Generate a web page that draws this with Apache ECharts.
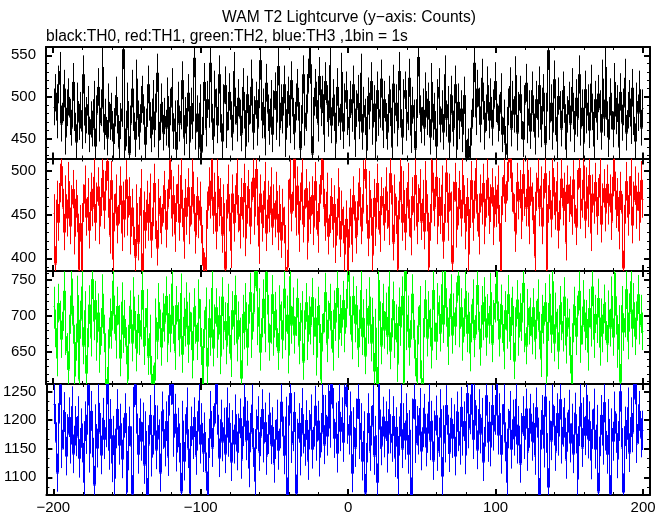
<!DOCTYPE html>
<html><head><meta charset="utf-8">
<script src="https://cdn.jsdelivr.net/npm/echarts@6/dist/echarts.min.js"></script>
<style>html,body{margin:0;padding:0;background:#fff}#c{width:669px;height:515px}</style>
</head><body><div id="c"></div>
<script>
const titleText = 'WAM T2 Lightcurve (y\u2212axis: Counts)';
const subtitleText = 'black:TH0, red:TH1, green:TH2, blue:TH3 ,1bin = 1s';
const xStart = -200;
const binSize = 1;
const xTicks = [-200, -100, 0, 100, 200];
const xMinorTicks = [-180,-160,-140,-120,-80,-60,-40,-20,20,40,60,80,120,140,160,180];

// counts per 1 s bin (bin centres from -199.5 to 199.5)
const th0 = [
488,505,472,515,531,468,493,510,452,487,500,476,463,518,481,446,495,470,484,459,527,466,478,491,455,
473,462,497,441,480,512,468,487,536,458,476,451,494,470,483,447,465,502,478,439,471,486,557,436,462,
495,432,468,510,481,449,522,474,458,491,503,467,443,486,515,472,455,498,461,482,529,448,470,494,457,
477,463,501,440,488,512,459,474,437,496,468,483,520,451,478,465,505,446,489,471,547,458,480,439,493,
434,476,518,462,497,485,541,470,453,509,488,466,527,479,447,493,514,460,482,506,473,457,531,489,468,
499,475,456,512,484,441,503,467,490,522,458,479,496,463,509,544,472,488,451,517,481,464,498,455,486,
507,470,537,462,493,478,515,449,485,502,466,520,477,458,494,511,472,438,490,527,463,481,505,546,539,
432,478,511,496,468,525,487,503,455,519,492,474,538,466,499,481,445,512,487,470,530,459,494,508,476,
462,497,480,515,449,486,504,471,529,458,490,476,436,501,483,519,464,492,447,508,475,485,522,460,497,
471,458,503,487,440,516,478,493,462,531,485,452,499,508,469,482,523,454,490,475,438,497,548,480,466,
488,463,507,476,495,452,518,470,483,441,499,512,467,486,458,527,474,491,446,503,480,462,515,437,494,
471,486,455,502,448,429,441,427,463,498,541,476,510,489,467,523,495,458,481,514,472,500,463,487,519,
492,468,481,506,455,475,444,431,488,513,462,497,479,526,457,484,503,471,449,492,517,466,486,459,508,
480,452,497,473,514,461,489,505,444,483,556,470,493,458,521,476,447,501,485,462,508,491,437,479,496,
468,512,483,455,499,474,527,463,487,445,509,478,493,460,516,482,441,497,470,504,486,458,522,475,536,
473,449,500,483,461,518,477,492,440,506,469,488,523,457,484,498,465,511,476,447,495,481,509,463,487
];
const th1 = [
452,394,467,441,486,505,458,430,473,446,488,437,462,479,425,468,451,387,440,386,463,484,447,470,432,
476,458,493,441,465,482,437,470,501,455,478,511,468,426,489,399,452,474,438,461,483,429,466,445,490,
447,471,425,458,436,402,463,418,449,480,386,455,432,467,441,475,421,458,486,443,412,469,450,437,462,
478,433,458,490,501,446,472,428,463,485,441,495,457,420,469,448,481,437,460,499,452,426,471,444,466,
438,392,387,401,455,482,467,513,449,476,431,494,458,470,427,463,388,446,485,452,409,474,440,462,497,
451,432,470,445,486,423,461,479,437,466,492,448,502,459,414,474,440,456,488,429,467,451,482,436,463,
445,477,430,462,421,458,438,387,390,468,491,452,476,514,447,483,428,465,498,439,457,480,419,466,449,
472,436,488,454,427,463,495,512,458,441,476,425,450,470,433,462,415,447,481,422,456,438,405,445,386,
433,458,416,472,444,426,465,481,437,452,490,502,461,423,478,447,404,469,435,486,454,428,471,459,441,
482,455,436,497,462,418,474,449,388,466,505,441,478,430,459,487,446,424,471,453,495,437,463,480,442,
468,431,489,452,390,441,512,476,458,493,437,470,449,484,420,462,498,441,475,455,395,466,487,433,459,
478,446,495,462,431,470,405,456,489,441,467,503,452,425,474,460,486,437,468,492,449,463,481,436,472,
457,484,440,385,471,495,463,488,510,514,498,475,452,428,487,466,479,443,496,470,458,501,437,482,465,
449,402,476,492,458,483,437,469,497,387,462,478,445,503,471,454,488,432,466,491,459,476,418,484,463,
472,448,490,461,436,479,503,455,468,506,444,482,457,495,429,474,461,487,448,470,496,439,464,480,452,
485,460,474,442,493,499,456,470,431,477,452,389,461,488,447,472,494,438,466,483,455,476,441,489,468
];
const th2 = [
714,683,642,718,695,668,706,735,672,651,626,702,752,688,617,664,729,612,695,741,659,708,621,683,716,
670,751,693,722,664,705,647,685,731,676,613,605,656,698,681,749,702,667,714,689,642,720,675,696,659,
612,688,709,663,727,681,649,703,672,694,736,658,685,711,644,676,620,607,611,698,666,719,683,657,705,
691,728,662,704,676,745,688,651,715,693,670,732,647,699,684,720,661,706,679,639,712,688,665,724,697,
658,606,682,713,631,697,671,739,656,690,712,668,701,645,727,680,693,659,718,674,641,708,686,729,663,
694,672,614,703,680,719,657,690,733,668,705,741,762,686,712,650,697,724,676,761,703,664,688,730,671,
707,683,651,716,694,667,738,679,702,646,755,688,713,674,699,725,659,692,708,637,682,719,665,701,687,
726,672,698,643,714,689,612,677,704,733,662,695,718,681,650,709,692,739,668,703,685,722,676,711,757,
748,701,666,728,690,715,655,683,736,672,697,645,711,688,727,663,699,624,684,605,750,694,659,718,681,
706,673,741,652,697,721,668,690,634,713,685,728,608,762,679,702,657,694,731,669,642,610,687,715,614,
608,697,723,670,708,684,653,736,691,665,719,702,677,744,689,762,712,658,698,731,674,705,686,720,756,
683,712,664,698,735,676,706,649,690,724,669,701,743,680,657,715,693,727,671,704,688,733,662,696,718,
762,694,670,717,689,652,708,681,730,665,699,714,638,686,723,671,705,692,746,676,659,711,687,699,673,
712,666,695,724,680,641,703,688,719,617,692,731,675,748,663,706,684,652,715,693,677,727,660,698,684,
646,607,690,714,672,702,735,661,687,723,679,696,650,711,684,741,668,703,689,725,657,698,676,717,693,
662,709,684,728,671,760,701,654,689,609,715,678,697,737,666,705,748,683,719,672,694,730,687,703,679
];
const th3 = [
1228,1162,1108,1195,1262,1150,1183,1214,1137,1176,1205,1158,1224,1141,1190,1171,1207,1133,1186,1160,1091,1198,1175,1261,1142,
1216,1169,1087,1193,1151,1230,1178,1139,1204,1166,1187,1263,1147,1202,1125,1173,1098,1185,1219,1156,1194,1132,1170,1212,1074,
1146,1189,1155,1071,1258,1262,1177,1140,1203,1163,1196,1122,1181,1066,1157,1209,1135,1174,1226,1148,1191,1167,1108,1215,1184,
1153,1198,1136,1243,1262,1263,1170,1211,1144,1187,1160,1075,1199,1128,1176,1222,1150,1072,1189,1166,1205,1138,1181,1234,1158,
1195,1143,1179,1110,1066,1168,1216,1152,1190,1229,1263,1175,1134,1201,1162,1187,1141,1222,1170,1195,1127,1183,1158,1210,1146,
1177,1203,1131,1189,1240,1164,1199,1116,1178,1227,1152,1093,1184,1207,1145,1171,1219,1160,1196,1138,1175,1213,1157,1188,1124,
1166,1201,1147,1185,1232,1172,1139,1206,1067,1191,1247,1159,1180,1214,1072,1168,1195,1137,1221,1176,1154,1200,1129,1183,1210,
1149,1188,1225,1163,1199,1135,1178,1244,1157,1209,1172,1251,1186,1263,1221,1168,1196,1142,1233,1180,1205,1161,1227,1258,1193,
1174,1215,1107,1188,1152,1203,1237,1166,1195,1128,1181,1073,1160,1212,1145,1190,1226,1138,1173,1091,1263,1184,1155,1206,1169,
1198,1142,1219,1176,1161,1207,1134,1188,1098,1172,1229,1150,1195,1165,1212,1140,1183,1067,1203,1236,1159,1190,1174,1221,1146,
1187,1211,1153,1177,1232,1164,1199,1129,1182,1208,1145,1170,1219,1102,1191,1160,1226,1175,1143,1204,1168,1193,1137,1215,1180,
1156,1223,1172,1198,1139,1247,1185,1210,1263,1166,1235,1191,1148,1219,1176,1204,1127,1188,1243,1161,1197,1153,1226,1181,1209,
1263,1174,1212,1140,1193,1228,1162,1091,1185,1216,1149,1201,1172,1237,1158,1190,1124,1178,1207,1166,1220,1145,1186,1211,1163,
1195,1138,1222,1170,1066,1183,1209,1151,1241,1177,1083,1199,1164,1227,1190,1145,1212,1172,1236,1158,1188,1204,1131,1179,1218,
1160,1194,1141,1213,1176,1097,1189,1230,1152,1205,1173,1244,1167,1198,1130,1184,1220,1149,1192,1075,1171,1209,1156,1231,1181,
1140,1202,1071,1186,1163,1215,1177,1132,1198,1250,1152,1074,1189,1166,1222,1143,1205,1178,1237,1263,1159,1193,1216,1169,1182
];

const yTicks0 = [450, 500, 550];
const yMinor0 = [430,440,460,470,480,490,510,520,530,540,560];
const yTicks1 = [400, 450, 500];
const yMinor1 = [390,410,420,430,440,460,470,480,490,510];
const yTicks2 = [650, 700, 750];
const yMinor2 = [610,620,630,640,660,670,680,690,710,720,730,740,760];
const yTicks3 = [1100, 1150, 1200, 1250];
const yMinor3 = [1083.333,1116.667,1133.333,1166.667,1183.333,1216.667,1233.333];

const panels = [
  {values: th0, color: '#000000', top: 47, height: 111.5, yMin: 426, yMax: 560, ticks: yTicks0, minor: yMinor0},
  {values: th1, color: '#ff0000', top: 158.5, height: 112.5, yMin: 385.5, yMax: 514, ticks: yTicks1, minor: yMinor1},
  {values: th2, color: '#00ff00', top: 271, height: 113, yMin: 606, yMax: 762.5, ticks: yTicks2, minor: yMinor2},
  {values: th3, color: '#0000ff', top: 384, height: 111, yMin: 1069, yMax: 1263, ticks: yTicks3, minor: yMinor3}
];
const xMin = -204.7, xMax = 204.7;
const FONT = '"Liberation Sans", Arial, Helvetica, sans-serif';
const minus = v => String(v).replace('-', '\u2212');

function makeRender(color) {
  return function (params, api) {
    const cs = params.coordSys;
    const x = api.value(0), v = api.value(1), e = api.value(2), prev = api.value(3);
    const top = api.coord([x, v + e]);
    const bot = api.coord([x, v - e]);
    const l = api.coord([x - binSize / 2, v]);
    const r = api.coord([x + binSize / 2, v]);
    const pl = api.coord([x - binSize / 2, prev]);
    const clampY = y => Math.min(cs.y + cs.height, Math.max(cs.y, y));
    const st = {stroke: color, lineWidth: 1};
    const px = Math.round(top[0]) + 0.5;
    const lx = Math.round(l[0]) + 0.5;
    const py = Math.round(l[1]) + 0.5;
    const children = [
      {type: 'line', shape: {x1: px, y1: clampY(top[1]), x2: px, y2: clampY(bot[1])}, style: st},
      {type: 'line', shape: {x1: lx, y1: clampY(pl[1]), x2: lx, y2: clampY(l[1])}, style: st}
    ];
    if (py >= cs.y && py <= cs.y + cs.height) {
      children.push({type: 'line', shape: {x1: lx, y1: py, x2: Math.round(r[0]) + 0.5, y2: py}, style: st});
    }
    return {type: 'group', children: children};
  };
}

const grids = [], xAxes = [], yAxes = [], series = [];
panels.forEach((p, i) => {
  grids.push({left: 46, right: 19, top: p.top, height: p.height});
  const line = {show: true, onZero: false, lineStyle: {color: '#000', width: 2}};
  const noLine = {show: false, onZero: false};
  const majTick = vals => ({show: true, inside: true, length: 6, customValues: vals, lineStyle: {color: '#000', width: 2}});
  const minTick = vals => ({show: true, inside: true, length: 3, customValues: vals, lineStyle: {color: '#000', width: 1}});
  const xb = {gridIndex: i, type: 'value', min: xMin, max: xMax, splitLine: {show: false}, axisLabel: {show: false}};
  const xi = xAxes.length;
  xAxes.push(Object.assign({}, xb, {position: 'bottom', axisLine: line, axisTick: majTick(xTicks),
    axisLabel: i === panels.length - 1 ? {show: true, customValues: xTicks, formatter: minus, color: '#000', fontSize: 15, fontFamily: FONT, margin: 5} : {show: false}}));
  xAxes.push(Object.assign({}, xb, {position: 'top', axisLine: line, axisTick: majTick(xTicks)}));
  xAxes.push(Object.assign({}, xb, {position: 'bottom', axisLine: noLine, axisTick: minTick(xMinorTicks)}));
  xAxes.push(Object.assign({}, xb, {position: 'top', axisLine: noLine, axisTick: minTick(xMinorTicks)}));
  const yb = {gridIndex: i, type: 'value', min: p.yMin, max: p.yMax, splitLine: {show: false}, axisLabel: {show: false}};
  const yi = yAxes.length;
  yAxes.push(Object.assign({}, yb, {position: 'left', axisLine: line, axisTick: majTick(p.ticks),
    axisLabel: {show: true, customValues: p.ticks, formatter: v => String(v), color: '#000', fontSize: 15, fontFamily: FONT, margin: 10}}));
  yAxes.push(Object.assign({}, yb, {position: 'right', axisLine: line, axisTick: majTick(p.ticks)}));
  yAxes.push(Object.assign({}, yb, {position: 'left', axisLine: noLine, axisTick: minTick(p.minor)}));
  yAxes.push(Object.assign({}, yb, {position: 'right', axisLine: noLine, axisTick: minTick(p.minor)}));
  // each bin: centre, counts, Poisson error sqrt(counts), previous bin's counts (for the step riser)
  const data = p.values.map((v, k) => [xStart + (k + 0.5) * binSize, v, Math.sqrt(v), k > 0 ? p.values[k - 1] : v]);
  series.push({type: 'custom', xAxisIndex: xi, yAxisIndex: yi, data: data, encode: {x: 0, y: 1},
    renderItem: makeRender(p.color), silent: true, animation: false, clip: true});
});

const chart = echarts.init(document.getElementById('c'), null, {renderer: 'canvas'});
chart.setOption({
  animation: false,
  backgroundColor: '#ffffff',
  grid: grids, xAxis: xAxes, yAxis: yAxes, series: series,
  graphic: [
    {type: 'text', x: 349, y: 18, style: {text: titleText, fill: '#000', font: '15.6px ' + FONT, textAlign: 'center', textVerticalAlign: 'middle'}},
    {type: 'text', x: 46, y: 37, style: {text: subtitleText, fill: '#000', font: '15.6px ' + FONT, textAlign: 'left', textVerticalAlign: 'middle'}}
  ]
});
</script></body></html>
